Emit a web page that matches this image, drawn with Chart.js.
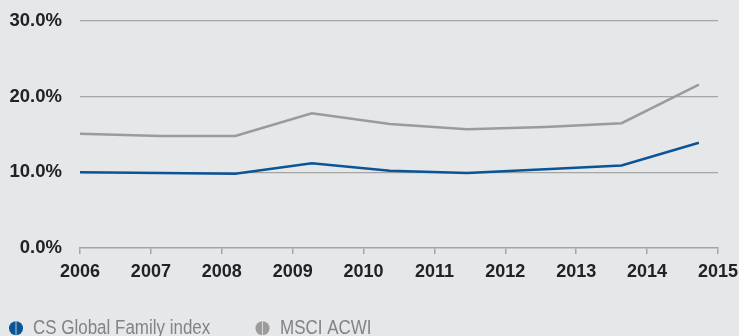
<!DOCTYPE html>
<html>
<head>
<meta charset="utf-8">
<script src="https://cdn.jsdelivr.net/npm/chart.js@4"></script>
<style>
  html, body { margin: 0; padding: 0; background: #e6e7e9; }
  #wrap { width: 739px; height: 336px; position: relative; }
</style>
</head>
<body>
<div id="wrap"><canvas id="c"></canvas></div>
<script>
// Data
const xPositions = [2006.0, 2007.13, 2008.19, 2009.27, 2010.37, 2011.46, 2012.56, 2013.64, 2014.73];
const csGlobalFamily = [10.0, 9.9, 9.8, 11.2, 10.2, 9.9, 10.4, 10.9, 13.9];
const msciAcwi = [15.1, 14.8, 14.8, 17.8, 16.4, 15.7, 16.0, 16.5, 21.6];
const seriesLabels = ['CS Global Family index', 'MSCI ACWI'];
const yTicks = [0, 10, 20, 30];
const xTicks = [2006, 2007, 2008, 2009, 2010, 2011, 2012, 2013, 2014, 2015];

const BLUE = '#0b5496';
const GREY = '#9b9b9b';
const GRID = '#a5a5a5';
const FONT = '"Liberation Sans", Arial, Helvetica, sans-serif';

const toPts = (arr) => arr.map((v, i) => ({ x: xPositions[i], y: v }));

const legendPlugin = {
  id: 'customLegend',
  afterDraw(chart) {
    const ctx = chart.ctx;
    const items = [
      { label: chart.data.datasets[0].label, color: chart.data.datasets[0].borderColor, cx: 16, tx: 33 },
      { label: chart.data.datasets[1].label, color: chart.data.datasets[1].borderColor, cx: 262.5, tx: 280 }
    ];
    const cy = 328.3;
    ctx.save();
    items.forEach(it => {
      ctx.fillStyle = it.color;
      ctx.beginPath();
      ctx.arc(it.cx, cy, 7, 0, Math.PI * 2);
      ctx.fill();
      ctx.strokeStyle = 'rgba(230,231,233,0.8)';
      ctx.lineWidth = 1;
      ctx.beginPath();
      ctx.moveTo(it.cx, cy - 8);
      ctx.lineTo(it.cx, cy + 8);
      ctx.stroke();
      ctx.save();
      ctx.translate(it.tx, 334.3);
      ctx.scale(0.87, 1);
      ctx.fillStyle = '#828385';
      ctx.font = '19.5px ' + FONT;
      ctx.textBaseline = 'alphabetic';
      ctx.textAlign = 'left';
      ctx.fillText(it.label, 0, 0);
      ctx.restore();
    });
    ctx.restore();
  }
};

new Chart(document.getElementById('c'), {
  type: 'line',
  data: {
    datasets: [
      { label: seriesLabels[0], data: toPts(csGlobalFamily), borderColor: BLUE, backgroundColor: BLUE, borderWidth: 2.5, pointRadius: 0, tension: 0 },
      { label: seriesLabels[1], data: toPts(msciAcwi), borderColor: GREY, backgroundColor: GREY, borderWidth: 2.5, pointRadius: 0, tension: 0 }
    ]
  },
  options: {
    responsive: true,
    maintainAspectRatio: false,
    animation: false,
    layout: { padding: { top: 21, right: 21, left: 0, bottom: 0 } },
    plugins: { legend: { display: false }, tooltip: { enabled: false } },
    scales: {
      x: {
        type: 'linear',
        min: xTicks[0],
        max: xTicks[xTicks.length - 1],
        afterFit(scale) { scale.height = 88; scale.paddingLeft = 0; scale.paddingRight = 0; },
        afterBuildTicks(scale) { scale.ticks = xTicks.map(v => ({ value: v })); },
        ticks: {
          callback: (v) => String(v),
          color: '#222222',
          font: { family: FONT, size: 18, weight: 'bold' },
          padding: 7,
          maxRotation: 0,
          autoSkip: false
        },
        grid: { drawOnChartArea: false, drawTicks: true, tickLength: 6, color: GRID, lineWidth: 1.5 },
        border: { display: true, color: GRID, width: 1.5 }
      },
      y: {
        min: 0,
        max: 30,
        afterFit(scale) { scale.width = 80; scale.paddingTop = 0; scale.paddingBottom = 0; },
        afterBuildTicks(scale) { scale.ticks = yTicks.map(v => ({ value: v })); },
        ticks: {
          callback: (v) => v.toFixed(1) + '%',
          color: '#222222',
          font: { family: FONT, size: 18.5, weight: 'bold' },
          padding: 18
        },
        grid: { drawTicks: false, color: (c) => c.tick && c.tick.value === 0 ? 'rgba(0,0,0,0)' : GRID, lineWidth: 1.2 },
        border: { display: false }
      }
    }
  },
  plugins: [legendPlugin]
});
</script>
</body>
</html>
